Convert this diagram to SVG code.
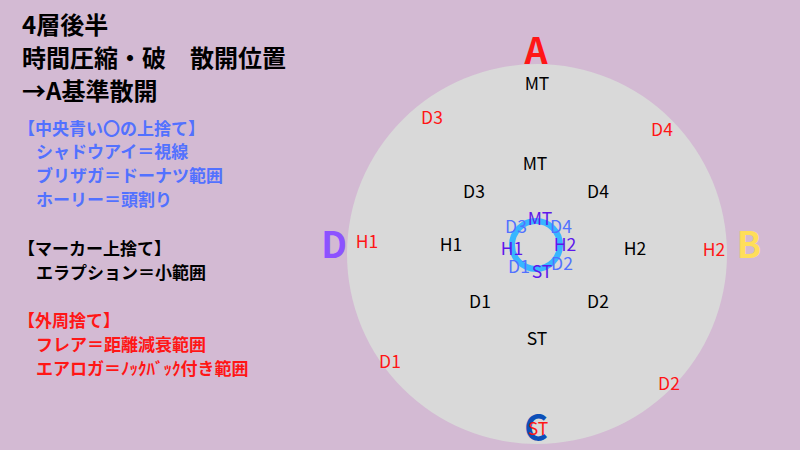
<svg xmlns="http://www.w3.org/2000/svg" width="800" height="450" viewBox="0 0 800 450">
<style>
text{font-family:"Noto Sans CJK JP","Noto Sans",sans-serif}
.h{font-size:24px;font-weight:700;fill:#000}
.s{font-size:17px;font-weight:700}
.b{fill:#5271ff}.k{fill:#000}.r{fill:#ff1616}
.n{font-size:17.5px;text-anchor:middle}
.m{font-size:36px;font-weight:700;text-anchor:middle}
.v{fill:#5e17eb}.l{fill:#5271ff}
</style>
<rect width="800" height="450" fill="#d3bad3"/>
<circle cx="537" cy="254" r="190" fill="#d9d9d9"/>
<circle cx="536" cy="245" r="24" fill="none" stroke="#38b6ff" stroke-width="6"/>
<g id="title"><text class="h" x="22" y="34">4層後半</text><text class="h" x="22" y="67">時間圧縮・破　散開位置</text><text class="h" x="22" y="100">→A基準散開</text></g>
<g id="notes">
<text class="s b" x="18" y="135">【中央青い〇の上捨て】</text>
<text class="s b" x="36" y="158">シャドウアイ＝視線</text>
<text class="s b" x="36" y="182">ブリザガ＝ドーナツ範囲</text>
<text class="s b" x="36" y="206">ホーリー＝頭割り</text>
<text class="s k" x="18" y="255">【マーカー上捨て】</text>
<text class="s k" x="36" y="279">エラプション＝小範囲</text>
<text class="s r" x="18" y="327">【外周捨て】</text>
<text class="s r" x="36" y="351">フレア＝距離減衰範囲</text>
<text class="s r" x="36" y="375">エアロガ＝ﾉｯｸﾊﾞｯｸ付き範囲</text>
</g>
<g id="markers">
<text class="m" x="536" y="64" fill="#ff1616">A</text>
<text class="m" x="749" y="258" fill="#ffde59">B</text>
<text class="m" x="536" y="441" fill="#0c4fb8">C</text>
<text class="m" x="334" y="258" fill="#8c52ff">D</text>
</g>
<g id="outer" class="r">
<text class="n" x="538" y="435">ST</text>
<text class="n" x="432" y="124">D3</text><text class="n" x="662" y="136">D4</text>
<text class="n" x="367" y="248">H1</text><text class="n" x="714" y="256">H2</text>
<text class="n" x="390" y="368">D1</text><text class="n" x="669" y="390">D2</text>
</g>
<g id="marker-spots" class="k">
<text class="n" x="537" y="90">MT</text><text class="n" x="535" y="170">MT</text>
<text class="n" x="474" y="198">D3</text><text class="n" x="598" y="198">D4</text>
<text class="n" x="451" y="251">H1</text><text class="n" x="635" y="255">H2</text>
<text class="n" x="480" y="308">D1</text><text class="n" x="598" y="308">D2</text>
<text class="n" x="537" y="345">ST</text>
</g>
<g id="center">
<text class="n l" x="516" y="233">D3</text><text class="n l" x="561" y="233">D4</text>
<text class="n l" x="519" y="273">D1</text><text class="n l" x="562" y="270">D2</text>
<text class="n v" x="540" y="225">MT</text><text class="n v" x="512" y="255">H1</text>
<text class="n v" x="565" y="251">H2</text><text class="n v" x="542" y="278">ST</text>
</g>
</svg>
